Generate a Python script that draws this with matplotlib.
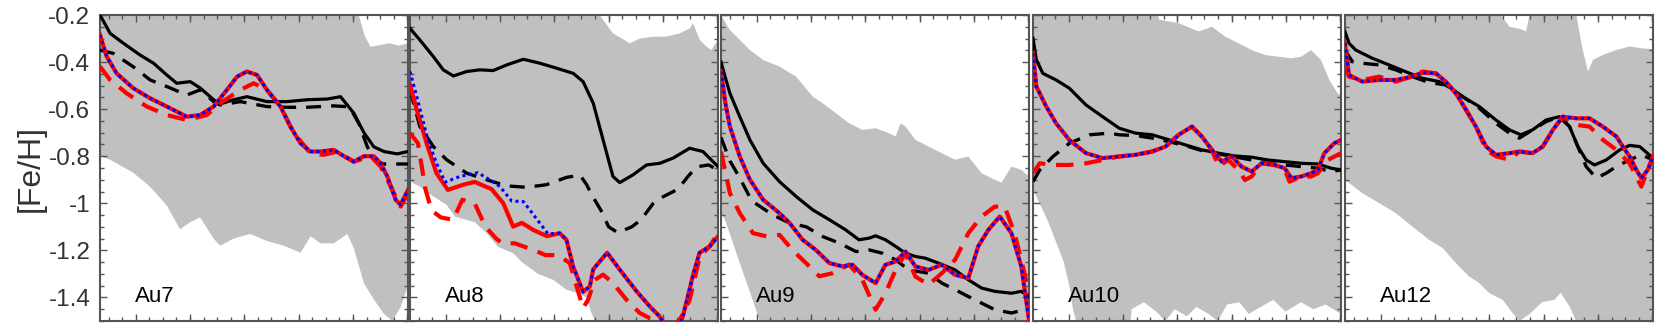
import numpy as np
import matplotlib
matplotlib.use("Agg")
import matplotlib.pyplot as plt

plt.rcParams['font.family'] = ['Liberation Sans', 'DejaVu Sans']
plt.rcParams['axes.unicode_minus'] = False

# x is the position across each panel (0 = left edge, 1 = right edge)
panel_names = ['Au7', 'Au8', 'Au9', 'Au10', 'Au12']

# ---------------- Au7 ----------------
au7_band_top = [(0, -0.1), (0.835, -0.1), (0.84, -0.2), (0.86, -0.29), (0.878, -0.335),
                (0.9, -0.33), (0.94, -0.32), (0.97, -0.33), (1.0, -0.32)]
au7_band_bot = [(0, -0.80), (0.033, -0.815), (0.108, -0.87), (0.163, -0.93), (0.217, -1.01),
                (0.26, -1.11), (0.293, -1.08), (0.325, -1.06), (0.369, -1.15), (0.39, -1.18),
                (0.434, -1.15), (0.488, -1.13), (0.542, -1.16), (0.597, -1.18), (0.651, -1.21),
                (0.684, -1.14), (0.716, -1.17), (0.759, -1.17), (0.803, -1.13), (0.824, -1.19),
                (0.857, -1.34), (0.89, -1.41), (0.922, -1.47), (0.95, -1.50), (0.976, -1.44),
                (1.0, -1.35)]
au7_black = [(0, -0.20), (0.033, -0.278), (0.076, -0.32), (0.13, -0.37), (0.174, -0.405),
             (0.217, -0.455), (0.249, -0.49), (0.293, -0.483), (0.325, -0.51), (0.369, -0.56),
             (0.39, -0.578), (0.434, -0.56), (0.477, -0.547), (0.542, -0.568), (0.607, -0.568),
             (0.672, -0.56), (0.738, -0.557), (0.781, -0.547), (0.824, -0.617), (0.857, -0.70),
             (0.889, -0.76), (0.922, -0.78), (0.965, -0.79), (1.0, -0.78)]
au7_black_dash = [(0, -0.349), (0.043, -0.363), (0.108, -0.42), (0.163, -0.476), (0.217, -0.504),
                  (0.282, -0.54), (0.325, -0.518), (0.369, -0.568), (0.39, -0.582), (0.456, -0.568),
                  (0.542, -0.589), (0.607, -0.592), (0.672, -0.592), (0.759, -0.586), (0.81, -0.59),
                  (0.84, -0.66), (0.868, -0.76), (0.89, -0.815), (0.92, -0.833), (1.0, -0.833)]
au7_red = [(0, -0.285), (0.022, -0.377), (0.054, -0.448), (0.108, -0.511), (0.163, -0.554),
           (0.217, -0.589), (0.282, -0.632), (0.325, -0.625), (0.369, -0.589), (0.412, -0.518),
           (0.445, -0.462), (0.477, -0.44), (0.51, -0.455), (0.542, -0.518), (0.586, -0.589),
           (0.618, -0.674), (0.651, -0.745), (0.683, -0.78), (0.716, -0.78), (0.759, -0.773),
           (0.792, -0.80), (0.824, -0.823), (0.857, -0.80), (0.889, -0.80), (0.911, -0.83),
           (0.933, -0.886), (0.96, -0.985), (0.976, -1.006), (1.0, -0.943)]
au7_blue = au7_red
au7_red_dash = [(0, -0.419), (0.033, -0.476), (0.087, -0.533), (0.152, -0.589), (0.217, -0.625),
                (0.282, -0.646), (0.347, -0.625), (0.39, -0.575), (0.456, -0.518), (0.499, -0.49),
                (0.542, -0.518), (0.586, -0.589), (0.629, -0.70), (0.683, -0.787), (0.727, -0.794),
                (0.77, -0.78), (0.824, -0.823), (0.879, -0.80), (0.911, -0.844), (0.944, -0.929),
                (0.976, -1.014), (1.0, -0.957)]

# ---------------- Au8 ----------------
au8_band_top = [(0, -0.1), (0.612, -0.1), (0.616, -0.2), (0.659, -0.278), (0.714, -0.32),
                (0.746, -0.30), (0.789, -0.292), (0.832, -0.292), (0.876, -0.278), (0.908, -0.257),
                (0.919, -0.235), (0.941, -0.306), (0.962, -0.334), (0.978, -0.349), (1.0, -0.306)]
au8_band_bot = [(0, -0.908), (0.032, -0.929), (0.076, -0.971), (0.119, -1.007), (0.146, -1.057),
                (0.21, -1.08), (0.249, -1.127), (0.286, -1.185), (0.335, -1.212), (0.363, -1.25),
                (0.416, -1.3), (0.465, -1.325), (0.508, -1.367), (0.541, -1.38), (0.573, -1.40),
                (0.589, -1.466), (0.6, -1.5), (0.611, -1.6), (1.0, -1.6)]
au8_black = [(0, -0.257), (0.032, -0.306), (0.076, -0.377), (0.108, -0.433), (0.141, -0.459),
             (0.184, -0.44), (0.227, -0.433), (0.27, -0.436), (0.314, -0.412), (0.368, -0.388),
             (0.422, -0.405), (0.476, -0.426), (0.53, -0.448), (0.562, -0.483), (0.595, -0.575),
             (0.627, -0.731), (0.659, -0.886), (0.681, -0.912), (0.724, -0.879), (0.768, -0.837),
             (0.811, -0.83), (0.854, -0.808), (0.908, -0.766), (0.951, -0.78), (1.0, -0.844)]
au8_black_dash = [(0, -0.518), (0.032, -0.674), (0.076, -0.759), (0.119, -0.815), (0.184, -0.872),
                  (0.249, -0.90), (0.314, -0.926), (0.378, -0.932), (0.443, -0.921), (0.508, -0.89),
                  (0.552, -0.88), (0.573, -0.92), (0.595, -0.975), (0.62, -1.03), (0.645, -1.10),
                  (0.675, -1.125), (0.72, -1.10), (0.75, -1.07), (0.79, -1.0), (0.81, -0.98),
                  (0.87, -0.94), (0.9, -0.89), (0.93, -0.845), (0.97, -0.837), (1.0, -0.86)]
au8_red = [(0, -0.497), (0.022, -0.603), (0.054, -0.745), (0.086, -0.872), (0.123, -0.943),
           (0.173, -0.921), (0.21, -0.909), (0.265, -0.94), (0.303, -1.0), (0.335, -1.099),
           (0.363, -1.083), (0.4, -1.113), (0.445, -1.14), (0.486, -1.127), (0.508, -1.155),
           (0.53, -1.27), (0.562, -1.376), (0.584, -1.353), (0.595, -1.28), (0.64, -1.21),
           (0.68, -1.28), (0.737, -1.376), (0.78, -1.44), (0.81, -1.48), (0.843, -1.55),
           (0.865, -1.55), (0.886, -1.48), (0.92, -1.30), (0.94, -1.21), (0.973, -1.183),
           (1.0, -1.141)]
au8_blue = [(0, -0.44), (0.022, -0.547), (0.058, -0.73), (0.086, -0.83), (0.114, -0.91),
            (0.162, -0.886), (0.22, -0.87), (0.259, -0.90), (0.292, -0.929), (0.33, -0.99),
            (0.368, -0.993), (0.396, -1.04), (0.448, -1.13), (0.486, -1.127), (0.508, -1.155),
            (0.53, -1.27), (0.562, -1.376), (0.584, -1.353), (0.595, -1.28), (0.64, -1.21),
            (0.68, -1.28), (0.737, -1.376), (0.78, -1.44), (0.81, -1.48), (0.843, -1.55),
            (0.865, -1.55), (0.886, -1.48), (0.92, -1.30), (0.94, -1.21), (0.973, -1.183),
            (1.0, -1.141)]
au8_red_dash = [(0, -0.702), (0.026, -0.745), (0.05, -0.94), (0.07, -1.03), (0.1, -1.06),
                (0.14, -1.07), (0.17, -0.985), (0.21, -1.0), (0.245, -1.1), (0.28, -1.15),
                (0.3, -1.17), (0.34, -1.17), (0.4, -1.198), (0.44, -1.22), (0.48, -1.22),
                (0.519, -1.254), (0.541, -1.353), (0.562, -1.445), (0.578, -1.41), (0.6, -1.325),
                (0.627, -1.303), (0.659, -1.339), (0.703, -1.41), (0.746, -1.466), (0.789, -1.495),
                (0.832, -1.55), (0.876, -1.495), (0.908, -1.41), (0.941, -1.226), (0.973, -1.183),
                (1.0, -1.127)]

# ---------------- Au9 ----------------
au9_band_top = [(0, -0.2), (0.029, -0.264), (0.094, -0.349), (0.137, -0.391), (0.19, -0.419),
                (0.244, -0.462), (0.298, -0.547), (0.33, -0.575), (0.373, -0.617), (0.416, -0.66),
                (0.459, -0.688), (0.502, -0.681), (0.545, -0.702), (0.567, -0.716), (0.583, -0.66),
                (0.599, -0.674), (0.631, -0.73), (0.674, -0.759), (0.717, -0.787), (0.76, -0.815),
                (0.803, -0.801), (0.846, -0.872), (0.889, -0.90), (0.911, -0.912), (0.943, -0.844),
                (0.975, -0.858), (1.0, -0.886)]
au9_band_bot = [(0, -1.04), (0.013, -1.07), (0.06, -1.25), (0.1, -1.4), (0.126, -1.5),
                (0.135, -1.6), (1.0, -1.6)]
au9_black = [(0, -0.40), (0.015, -0.47), (0.029, -0.533), (0.061, -0.632), (0.094, -0.731),
             (0.137, -0.83), (0.19, -0.908), (0.244, -0.971), (0.298, -1.028), (0.352, -1.07),
             (0.405, -1.113), (0.448, -1.155), (0.481, -1.148), (0.502, -1.138), (0.534, -1.155),
             (0.567, -1.183), (0.599, -1.212), (0.631, -1.226), (0.663, -1.233), (0.706, -1.254),
             (0.76, -1.283), (0.803, -1.325), (0.846, -1.36), (0.889, -1.374), (0.943, -1.382),
             (0.975, -1.374), (1.0, -1.396)]
au9_black_dash = [(0, -0.72), (0.029, -0.82), (0.06, -0.89), (0.1, -0.99), (0.169, -1.05),
                  (0.223, -1.084), (0.277, -1.1), (0.33, -1.141), (0.384, -1.169), (0.438, -1.205),
                  (0.481, -1.198), (0.524, -1.212), (0.567, -1.24), (0.61, -1.283), (0.642, -1.29),
                  (0.674, -1.297), (0.717, -1.339), (0.76, -1.367), (0.803, -1.396), (0.846, -1.424),
                  (0.889, -1.452), (0.943, -1.466), (0.986, -1.452), (1.0, -1.438)]
au9_red = [(0, -0.44), (0.015, -0.58), (0.029, -0.674), (0.061, -0.801), (0.094, -0.90),
           (0.137, -0.985), (0.19, -1.042), (0.223, -1.084), (0.265, -1.155), (0.308, -1.198),
           (0.352, -1.254), (0.395, -1.268), (0.427, -1.261), (0.459, -1.304), (0.502, -1.339),
           (0.534, -1.261), (0.567, -1.247), (0.599, -1.205), (0.631, -1.268), (0.674, -1.283),
           (0.717, -1.261), (0.76, -1.304), (0.803, -1.318), (0.835, -1.183), (0.868, -1.113),
           (0.905, -1.056), (0.943, -1.127), (0.975, -1.268), (1.0, -1.495)]
au9_blue = au9_red
au9_red_dash = [(0, -0.78), (0.029, -0.957), (0.061, -1.042), (0.104, -1.127), (0.147, -1.14),
                (0.19, -1.134), (0.233, -1.2), (0.276, -1.254), (0.319, -1.31), (0.362, -1.297),
                (0.416, -1.26), (0.459, -1.325), (0.502, -1.452), (0.534, -1.382), (0.567, -1.283),
                (0.599, -1.212), (0.631, -1.311), (0.674, -1.346), (0.717, -1.297), (0.76, -1.24),
                (0.803, -1.127), (0.846, -1.056), (0.889, -1.014), (0.921, -1.014), (0.953, -1.127),
                (0.975, -1.24), (1.0, -1.382)]

# ---------------- Au10 ----------------
au10_band_top = [(0, -0.1), (0.387, -0.1), (0.41, -0.22), (0.473, -0.235), (0.538, -0.27),
                 (0.581, -0.25), (0.624, -0.292), (0.667, -0.32), (0.71, -0.349), (0.753, -0.37),
                 (0.796, -0.377), (0.839, -0.384), (0.871, -0.377), (0.903, -0.349), (0.935, -0.391),
                 (0.962, -0.476), (0.989, -0.533), (1.0, -0.54)]
au10_band_bot = [(0, -0.94), (0.05, -1.08), (0.1, -1.25), (0.118, -1.35), (0.13, -1.45),
                 (0.14, -1.5), (0.15, -1.6), (0.31, -1.6), (0.32, -1.45), (0.36, -1.42),
                 (0.40, -1.46), (0.43, -1.5), (0.46, -1.45), (0.5, -1.48), (0.53, -1.44),
                 (0.57, -1.47), (0.6, -1.5), (0.63, -1.43), (0.67, -1.42), (0.7, -1.47),
                 (0.74, -1.44), (0.78, -1.41), (0.82, -1.46), (0.87, -1.42), (0.91, -1.45),
                 (0.95, -1.43), (1.0, -1.47)]
au10_black = [(0, -0.299), (0.011, -0.391), (0.032, -0.448), (0.075, -0.476), (0.118, -0.511),
              (0.172, -0.582), (0.226, -0.632), (0.28, -0.681), (0.333, -0.702), (0.387, -0.709),
              (0.441, -0.73), (0.495, -0.752), (0.548, -0.773), (0.602, -0.787), (0.656, -0.799),
              (0.71, -0.804), (0.763, -0.816), (0.817, -0.823), (0.871, -0.83), (0.925, -0.833),
              (0.968, -0.851), (1.0, -0.858)]
au10_black_dash = [(0, -0.908), (0.022, -0.858), (0.065, -0.801), (0.118, -0.745), (0.183, -0.709),
                   (0.247, -0.702), (0.28, -0.709), (0.333, -0.712), (0.387, -0.723), (0.441, -0.738),
                   (0.495, -0.755), (0.548, -0.776), (0.602, -0.79), (0.656, -0.803), (0.71, -0.816),
                   (0.763, -0.83), (0.817, -0.837), (0.871, -0.844), (0.925, -0.851), (0.968, -0.865),
                   (1.0, -0.858)]
au10_red = [(0, -0.363), (0.011, -0.504), (0.043, -0.589), (0.075, -0.66), (0.118, -0.731),
            (0.172, -0.787), (0.226, -0.808), (0.28, -0.801), (0.333, -0.794), (0.387, -0.78),
            (0.43, -0.759), (0.473, -0.709), (0.516, -0.674), (0.548, -0.716), (0.581, -0.773),
            (0.613, -0.823), (0.645, -0.801), (0.677, -0.844), (0.71, -0.865), (0.742, -0.83),
            (0.785, -0.837), (0.817, -0.851), (0.839, -0.893), (0.871, -0.886), (0.903, -0.872),
            (0.925, -0.858), (0.946, -0.787), (0.978, -0.745), (1.0, -0.731)]
au10_blue = au10_red
au10_red_dash = [(0, -0.872), (0.022, -0.83), (0.065, -0.837), (0.118, -0.837), (0.172, -0.83),
                 (0.226, -0.816), (0.28, -0.801), (0.333, -0.794), (0.387, -0.78), (0.43, -0.759),
                 (0.473, -0.709), (0.516, -0.674), (0.548, -0.716), (0.581, -0.773), (0.602, -0.844),
                 (0.634, -0.816), (0.667, -0.858), (0.688, -0.901), (0.71, -0.886), (0.742, -0.83),
                 (0.785, -0.837), (0.817, -0.858), (0.833, -0.908), (0.871, -0.886), (0.903, -0.886),
                 (0.925, -0.872), (0.957, -0.816), (0.989, -0.794), (1.0, -0.787)]

# ---------------- Au12 ----------------
au12_band_top = [(0, -0.1), (0.498, -0.1), (0.501, -0.19), (0.534, -0.25), (0.57, -0.26),
                 (0.588, -0.27), (0.599, -0.2), (0.602, -0.1), (0.745, -0.1), (0.751, -0.2),
                 (0.772, -0.349), (0.789, -0.44), (0.805, -0.391), (0.837, -0.37), (0.88, -0.349),
                 (0.924, -0.334), (0.967, -0.342), (1.0, -0.345)]
au12_band_bot = [(0, -0.90), (0.056, -0.957), (0.111, -0.999), (0.165, -1.042), (0.219, -1.099),
                 (0.273, -1.155), (0.317, -1.19), (0.36, -1.254), (0.403, -1.311), (0.436, -1.339),
                 (0.469, -1.382), (0.512, -1.41), (0.544, -1.466), (0.566, -1.5), (0.6, -1.47),
                 (0.64, -1.42), (0.68, -1.41), (0.70, -1.38), (0.73, -1.44), (0.75, -1.5),
                 (0.76, -1.6), (1.0, -1.6)]
au12_black = [(0, -0.271), (0.013, -0.32), (0.035, -0.349), (0.089, -0.384), (0.143, -0.412),
              (0.197, -0.441), (0.252, -0.469), (0.306, -0.483), (0.338, -0.504), (0.382, -0.547),
              (0.436, -0.589), (0.49, -0.646), (0.534, -0.688), (0.571, -0.709), (0.609, -0.688),
              (0.653, -0.646), (0.696, -0.632), (0.729, -0.674), (0.756, -0.759), (0.783, -0.816),
              (0.81, -0.837), (0.848, -0.816), (0.892, -0.773), (0.924, -0.754), (0.957, -0.759),
              (1.0, -0.808)]
au12_black_dash = [(0, -0.349), (0.024, -0.398), (0.056, -0.405), (0.111, -0.412), (0.165, -0.433),
                   (0.219, -0.462), (0.273, -0.487), (0.327, -0.497), (0.382, -0.547), (0.436, -0.596),
                   (0.49, -0.66), (0.534, -0.702), (0.566, -0.723), (0.609, -0.688), (0.653, -0.653),
                   (0.696, -0.632), (0.729, -0.674), (0.756, -0.759), (0.783, -0.844), (0.816, -0.893),
                   (0.848, -0.872), (0.881, -0.844), (0.924, -0.815), (0.962, -0.794), (1.0, -0.815)]
au12_red = [(0, -0.32), (0.013, -0.455), (0.056, -0.483), (0.111, -0.476), (0.165, -0.476),
            (0.208, -0.465), (0.252, -0.445), (0.295, -0.448), (0.327, -0.483), (0.36, -0.533),
            (0.393, -0.603), (0.425, -0.674), (0.458, -0.759), (0.49, -0.794), (0.534, -0.787),
            (0.566, -0.78), (0.609, -0.787), (0.642, -0.759), (0.675, -0.688), (0.707, -0.632),
            (0.751, -0.639), (0.794, -0.639), (0.837, -0.674), (0.881, -0.716), (0.902, -0.759),
            (0.924, -0.801), (0.946, -0.858), (0.962, -0.893), (0.983, -0.858), (1.0, -0.801)]
au12_blue = au12_red
au12_red_dash = [(0, -0.419), (0.013, -0.462), (0.056, -0.476), (0.111, -0.462), (0.165, -0.483),
                 (0.208, -0.465), (0.252, -0.44), (0.295, -0.448), (0.327, -0.483), (0.36, -0.533),
                 (0.393, -0.603), (0.425, -0.674), (0.458, -0.773), (0.49, -0.80), (0.534, -0.815),
                 (0.566, -0.78), (0.609, -0.787), (0.642, -0.759), (0.675, -0.688), (0.707, -0.632),
                 (0.751, -0.667), (0.794, -0.674), (0.837, -0.73), (0.881, -0.773), (0.924, -0.83),
                 (0.962, -0.929), (0.983, -0.858), (1.0, -0.801)]

bands_top = [au7_band_top, au8_band_top, au9_band_top, au10_band_top, au12_band_top]
bands_bot = [au7_band_bot, au8_band_bot, au9_band_bot, au10_band_bot, au12_band_bot]
black_solid = [au7_black, au8_black, au9_black, au10_black, au12_black]
black_dashed = [au7_black_dash, au8_black_dash, au9_black_dash, au10_black_dash, au12_black_dash]
red_solid = [au7_red, au8_red, au9_red, au10_red, au12_red]
blue_dotted = [au7_blue, au8_blue, au9_blue, au10_blue, au12_blue]
red_dashed = [au7_red_dash, au8_red_dash, au9_red_dash, au10_red_dash, au12_red_dash]

yticks = [-0.2, -0.4, -0.6, -0.8, -1.0, -1.2, -1.4]
ytick_labels = ['-0.2', '-0.4', '-0.6', '-0.8', '-1', '-1.2', '-1.4']

W, H = 1661, 327
fig = plt.figure(figsize=(W / 100, H / 100), dpi=100)
lefts = [100, 410, 721, 1033, 1345]
pw = 308
bottom_px, top_px = 321, 15

edge = '#555555'
for i, name in enumerate(panel_names):
    ax = fig.add_axes([lefts[i] / W, (H - bottom_px) / H, pw / W, (bottom_px - top_px) / H])
    top = np.array(bands_top[i])
    bot = np.array(bands_bot[i])
    poly = np.vstack([top, bot[::-1]])
    ax.fill(poly[:, 0], poly[:, 1], color='#c0c0c0', lw=0, zorder=1)

    d = np.array(black_solid[i])
    ax.plot(d[:, 0], d[:, 1], color='black', lw=2.3, zorder=3, solid_joinstyle='round')
    d = np.array(black_dashed[i])
    ax.plot(d[:, 0], d[:, 1], color='black', lw=2.4, dashes=(4.5, 3), zorder=3)
    d = np.array(red_dashed[i])
    ax.plot(d[:, 0], d[:, 1], color='red', lw=3.0, dashes=(4.2, 2.6), zorder=4)
    d = np.array(red_solid[i])
    ax.plot(d[:, 0], d[:, 1], color='red', lw=3.0, zorder=5, solid_joinstyle='round')
    d = np.array(blue_dotted[i])
    ax.plot(d[:, 0], d[:, 1], color='blue', lw=2.2, dashes=(1, 1.1), zorder=6)

    ax.set_xlim(0, 1)
    ax.set_ylim(-1.5, -0.2)
    major_x = np.arange(0.116, 1.0, 0.1763)
    minor_x = np.arange(0.116 - 2 * 0.04408, 1.0, 0.04408)
    ax.set_xticks(major_x)
    ax.set_xticks(minor_x[minor_x >= 0], minor=True)
    ax.set_yticks(yticks)
    ax.set_yticks(np.arange(-1.5, -0.19, 0.05), minor=True)
    ax.tick_params(which='both', direction='in', top=True, right=True, color=edge,
                   labelbottom=False, width=1)
    ax.tick_params(which='major', length=5)
    ax.tick_params(which='minor', length=3)
    if i == 0:
        ax.set_yticklabels(ytick_labels, fontsize=17.5, color='#333333')
        ax.tick_params(axis='y', pad=7)
        ax.set_ylabel('[Fe/H]', fontsize=23, color='#333333', labelpad=2)
    else:
        ax.set_yticklabels([])
    for s in ax.spines.values():
        s.set_color(edge)
        s.set_linewidth(1.5)
    ax.text(0.114, 0.045, name, transform=ax.transAxes, fontsize=16, color='black',
            ha='left', va='bottom', zorder=7)

fig.savefig('out.png', dpi=100)
